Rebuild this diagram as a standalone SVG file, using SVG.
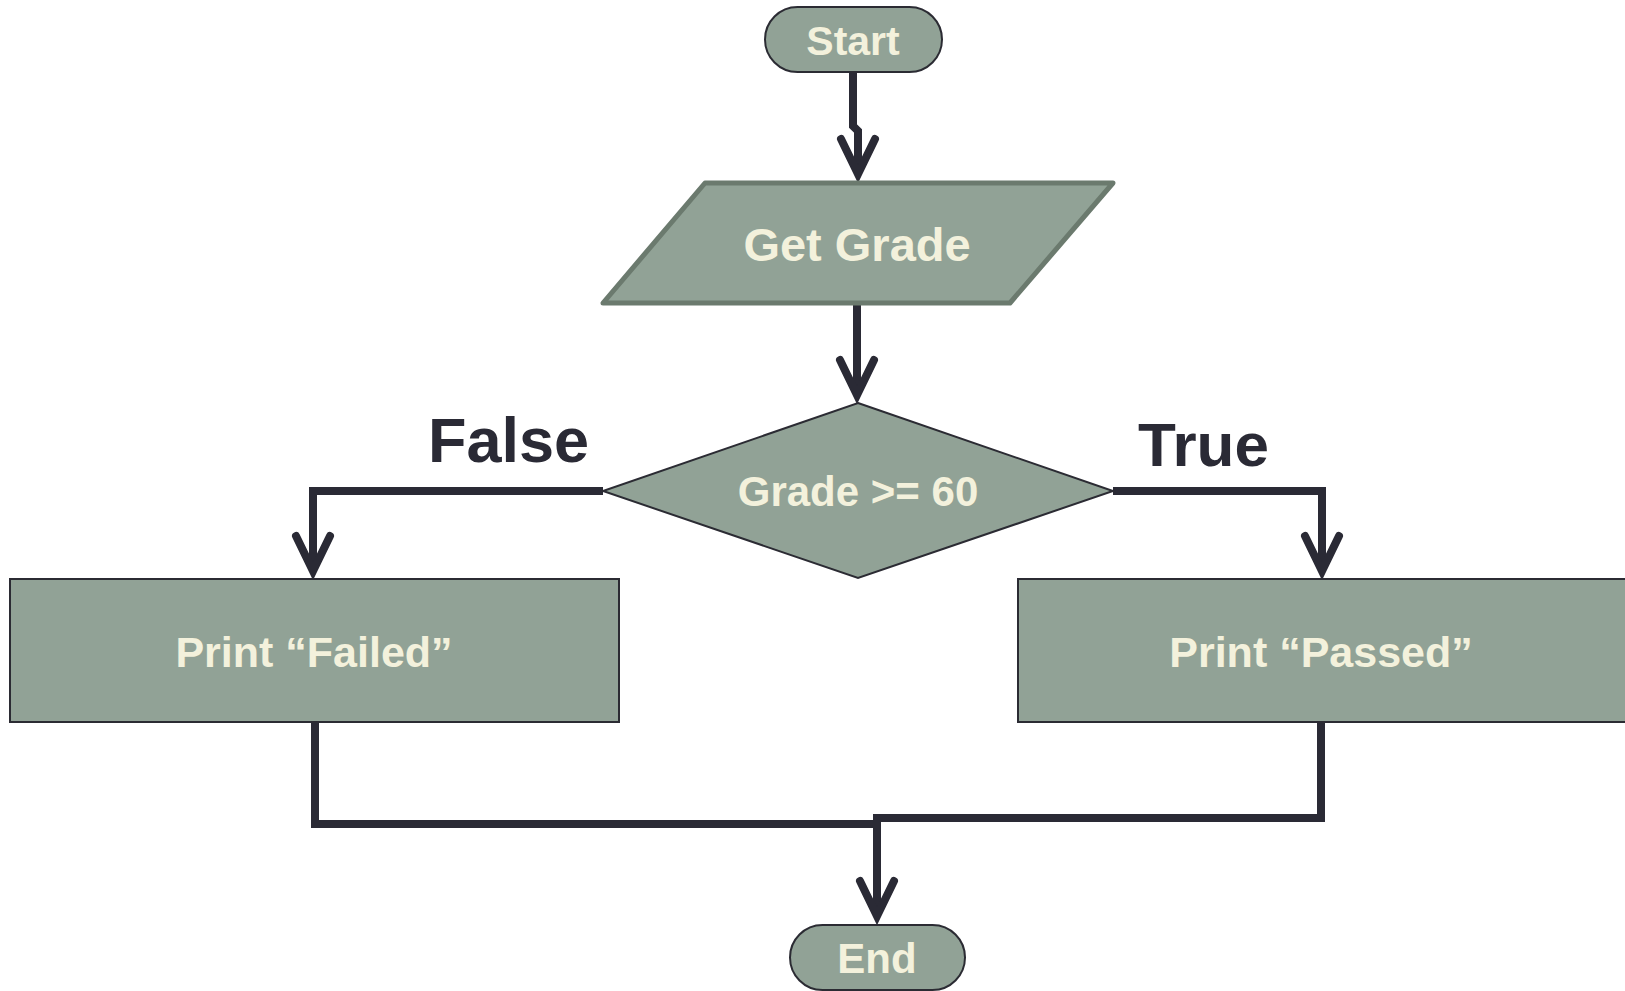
<svg xmlns="http://www.w3.org/2000/svg" width="1625" height="991" viewBox="0 0 1625 991">
  <style>
    .shape { fill: #91a296; stroke: #2b2b33; stroke-width: 2; }
    .io { fill: #91a296; stroke: #6b7a6e; stroke-width: 5; stroke-linejoin: round; }
    .label { fill: #f3f1dc; font-family: "Liberation Sans", Arial, sans-serif; font-weight: bold; text-anchor: middle; }
    .branch { fill: #2a2a35; font-family: "Liberation Sans", Arial, sans-serif; font-weight: bold; }
    .wire { fill: none; stroke: #2a2a35; stroke-width: 8; stroke-linejoin: miter; }
  </style>
  <defs>
    <marker id="chevron" markerUnits="userSpaceOnUse" markerWidth="80" markerHeight="80" refX="0" refY="0" orient="auto" overflow="visible">
      <path d="M-35,-17 L0,0 L-35,17" fill="none" stroke="#2a2a35" stroke-width="8" stroke-linejoin="miter" stroke-linecap="round"/>
    </marker>
  </defs>
  <rect width="1625" height="991" fill="#ffffff"/>

  <!-- connectors -->
  <g id="connectors">
    <path class="wire" d="M853,72 V126 L858,131 V174" marker-end="url(#chevron)"/>
    <path class="wire" d="M857,303 V395" marker-end="url(#chevron)"/>
    <path class="wire" d="M603,491 H313 V571" marker-end="url(#chevron)"/>
    <path class="wire" d="M1113,491 H1322 V571" marker-end="url(#chevron)"/>
    <path class="wire" d="M315,723 V824 H877"/>
    <path class="wire" d="M1321,723 V818 H877 V916" marker-end="url(#chevron)"/>
    <text class="branch" x="428" y="462" font-size="63">False</text>
    <text class="branch" x="1138" y="466" font-size="62">True</text>
  </g>

  <g id="start">
    <rect class="shape" x="765" y="7" width="177" height="65" rx="32.5"/>
    <text class="label" x="853" y="55" font-size="41">Start</text>
  </g>

  <g id="get-grade">
    <polygon class="io" points="705,183 1113,183 1010,303 603,303"/>
    <text class="label" x="857" y="261" font-size="47">Get Grade</text>
  </g>

  <g id="decision">
    <polygon class="shape" points="858,403 1113,491 858,578 603,491"/>
    <text class="label" x="858" y="506" font-size="42">Grade &gt;= 60</text>
  </g>

  <g id="print-failed">
    <rect class="shape" x="10" y="579" width="609" height="143"/>
    <text class="label" x="314" y="667" font-size="43">Print “Failed”</text>
  </g>

  <g id="print-passed">
    <rect class="shape" x="1018" y="579" width="620" height="143"/>
    <text class="label" x="1321" y="667" font-size="43">Print “Passed”</text>
  </g>

  <g id="end">
    <rect class="shape" x="790" y="925" width="175" height="65" rx="32.5"/>
    <text class="label" x="877" y="973" font-size="42">End</text>
  </g>
</svg>
